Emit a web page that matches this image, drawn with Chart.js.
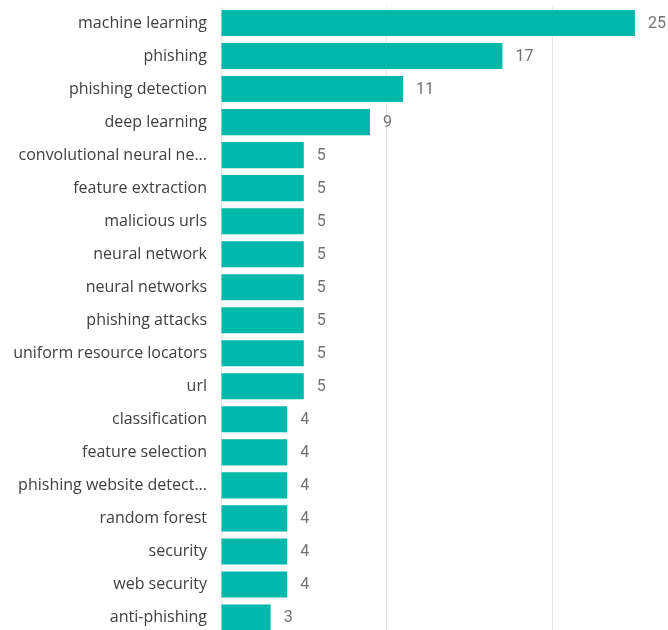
<!DOCTYPE html>
<html>
<head>
<meta charset="utf-8">
<script src="https://cdn.jsdelivr.net/npm/chart.js@4"></script>
<style>
  html, body { margin: 0; padding: 0; background: #fff; overflow: hidden; }
</style>
</head>
<body>
<canvas id="chart" width="668" height="634"></canvas>
<script>
const categories = [
  'machine learning', 'phishing', 'phishing detection', 'deep learning',
  'convolutional neural ne...', 'feature extraction', 'malicious urls',
  'neural network', 'neural networks', 'phishing attacks',
  'uniform resource locators', 'url', 'classification', 'feature selection',
  'phishing website detect...', 'random forest', 'security', 'web security',
  'anti-phishing'
];
const counts = [25, 17, 11, 9, 5, 5, 5, 5, 5, 5, 5, 5, 4, 4, 4, 4, 4, 4, 3];
const xTicks = [0, 10, 20];

// draws the count just right of each bar
const valueLabels = {
  id: 'valueLabels',
  afterDatasetsDraw(chart) {
    const ctx = chart.ctx;
    const meta = chart.getDatasetMeta(0);
    ctx.save();
    ctx.font = '16px Roboto, sans-serif';
    ctx.fillStyle = '#737373';
    ctx.textAlign = 'left';
    ctx.textBaseline = 'middle';
    meta.data.forEach((bar, i) => {
      ctx.fillText(String(counts[i]), bar.x + 13, bar.y + 1);
    });
    ctx.restore();
  }
};

new Chart(document.getElementById('chart'), {
  type: 'bar',
  data: {
    labels: categories,
    datasets: [{
      data: counts,
      backgroundColor: '#01B8AA',
      borderWidth: 0,
      categoryPercentage: 0.79,
      barPercentage: 1.0
    }]
  },
  options: {
    indexAxis: 'y',
    responsive: false,
    animation: false,
    layout: { padding: { top: 6.5, right: 0, bottom: 0, left: 0 } },
    plugins: {
      legend: { display: false },
      tooltip: { enabled: false }
    },
    scales: {
      x: {
        min: 0,
        max: 27,
        afterBuildTicks: (axis) => { axis.ticks = xTicks.map((v) => ({ value: v })); },
        afterFit: (axis) => {
          axis.height = 0;
          axis.paddingLeft = 0;
          axis.paddingRight = 0;
        },
        ticks: { display: false },
        grid: { color: '#e6e6e6', lineWidth: 1, drawTicks: false },
        border: { display: false }
      },
      y: {
        afterFit: (axis) => {
          axis.width = 221;
          axis.paddingTop = 0;
          axis.paddingBottom = 0;
        },
        ticks: {
          color: '#404040',
          font: { family: 'Open Sans', size: 16 },
          padding: 14,
          autoSkip: false
        },
        grid: { display: false, drawTicks: false },
        border: { display: false }
      }
    }
  },
  plugins: [valueLabels]
});
</script>
</body>
</html>
